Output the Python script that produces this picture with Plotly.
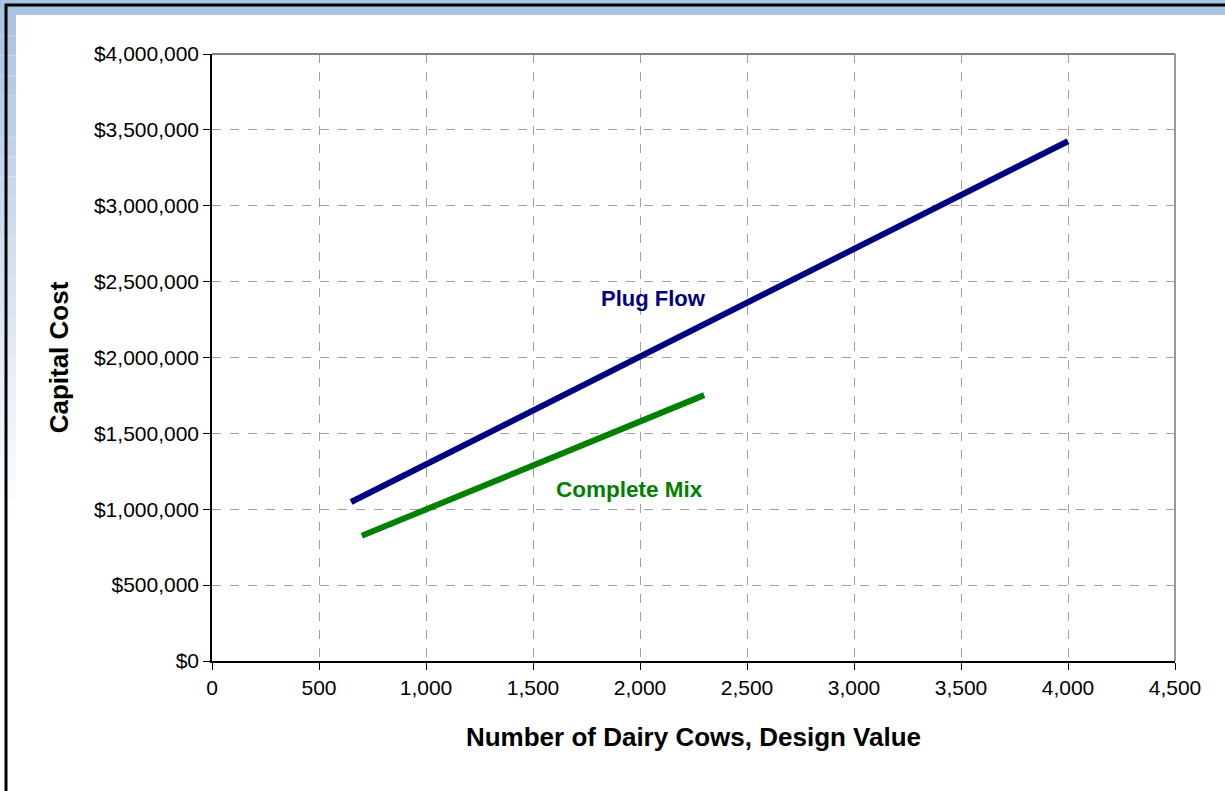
import plotly.graph_objects as go

plug_cows = [650, 4000]
plug_cost = [1048000, 3425000]
mix_cows = [700, 2300]
mix_cost = [825000, 1752000]

y_ticks = [0, 500000, 1000000, 1500000, 2000000, 2500000, 3000000, 3500000, 4000000]
y_labels = ["$0", "$500,000", "$1,000,000", "$1,500,000", "$2,000,000",
            "$2,500,000", "$3,000,000", "$3,500,000", "$4,000,000"]
x_ticks = [0, 500, 1000, 1500, 2000, 2500, 3000, 3500, 4000, 4500]
x_labels = ["0", "500", "1,000", "1,500", "2,000", "2,500", "3,000", "3,500", "4,000", "4,500"]

W, H = 1225, 791
L, R, T, B = 212, 50, 54, 130
pw, ph = W - L - R, H - T - B

def px(x):
    return (x - L) / pw

def py(y):
    return (H - B - y) / ph

fig = go.Figure()
fig.add_trace(go.Scatter(x=plug_cows, y=plug_cost, mode="lines",
                         line=dict(color="#000080", width=6), showlegend=False))
fig.add_trace(go.Scatter(x=mix_cows, y=mix_cost, mode="lines",
                         line=dict(color="#008000", width=6), showlegend=False))

shapes = []
shapes.append(dict(type="rect", xref="paper", yref="paper", x0=px(0), x1=px(W),
                   y0=py(15), y1=py(0), fillcolor="#A9C4E2", line=dict(width=0), layer="below"))
n = 25
top, bot = 15, 520
c0 = (0xA9, 0xC4, 0xE2)
for i in range(n):
    ya = top + (bot - top) * i / n
    yb = top + (bot - top) * (i + 1) / n
    t = (i + 0.5) / n
    col = tuple(int(round(c + (255 - c) * t)) for c in c0)
    shapes.append(dict(type="rect", xref="paper", yref="paper", x0=px(0), x1=px(16),
                       y0=py(yb), y1=py(ya), fillcolor="rgb(%d,%d,%d)" % col,
                       line=dict(width=0), layer="below"))
shapes.append(dict(type="line", xref="paper", yref="paper", x0=px(5), x1=px(W),
                   y0=py(5), y1=py(5), line=dict(color="black", width=3)))
shapes.append(dict(type="line", xref="paper", yref="paper", x0=px(6), x1=px(6),
                   y0=py(4), y1=py(H), line=dict(color="black", width=3)))
shapes.append(dict(type="line", xref="paper", yref="paper", x0=0, x1=1, y0=1, y1=1,
                   line=dict(color="#808080", width=2)))
shapes.append(dict(type="line", xref="paper", yref="paper", x0=1, x1=1, y0=0, y1=1,
                   line=dict(color="#999999", width=2)))

fig.update_layout(
    width=W, height=H,
    margin=dict(l=L, r=R, t=T, b=B),
    paper_bgcolor="white", plot_bgcolor="white",
    font=dict(family="Liberation Sans, Arial, sans-serif", color="black", size=21),
    shapes=shapes,
    annotations=[
        dict(x=2065, y=2392000, text="<b>Plug Flow</b>", showarrow=False,
             font=dict(color="#000080", size=22)),
        dict(x=1949, y=1127000, text="<b>Complete Mix</b>", showarrow=False,
             font=dict(color="#008000", size=22.5)),
    ],
)
fig.update_xaxes(range=[0, 4500], tickvals=x_ticks, ticktext=x_labels,
                 showgrid=True, gridcolor="#A0A0A0", griddash="dash", gridwidth=1,
                 showline=True, linecolor="black", linewidth=1.5,
                 ticks="outside", ticklen=7, tickcolor="black",
                 zeroline=False,
                 title=dict(text="<b>Number of Dairy Cows, Design Value</b>",
                            font=dict(size=26), standoff=30))
fig.update_yaxes(range=[0, 4000000], tickvals=y_ticks, ticktext=y_labels,
                 showgrid=True, gridcolor="#A0A0A0", griddash="dash", gridwidth=1,
                 showline=True, linecolor="black", linewidth=1.5,
                 ticks="outside", ticklen=7, tickcolor="black",
                 zeroline=False,
                 title=dict(text="<b>Capital Cost</b>", font=dict(size=26), standoff=18))

fig.write_html("out.html", config={"displayModeBar": False},
               post_script="document.body.style.margin='0';document.body.style.overflow='hidden';")
